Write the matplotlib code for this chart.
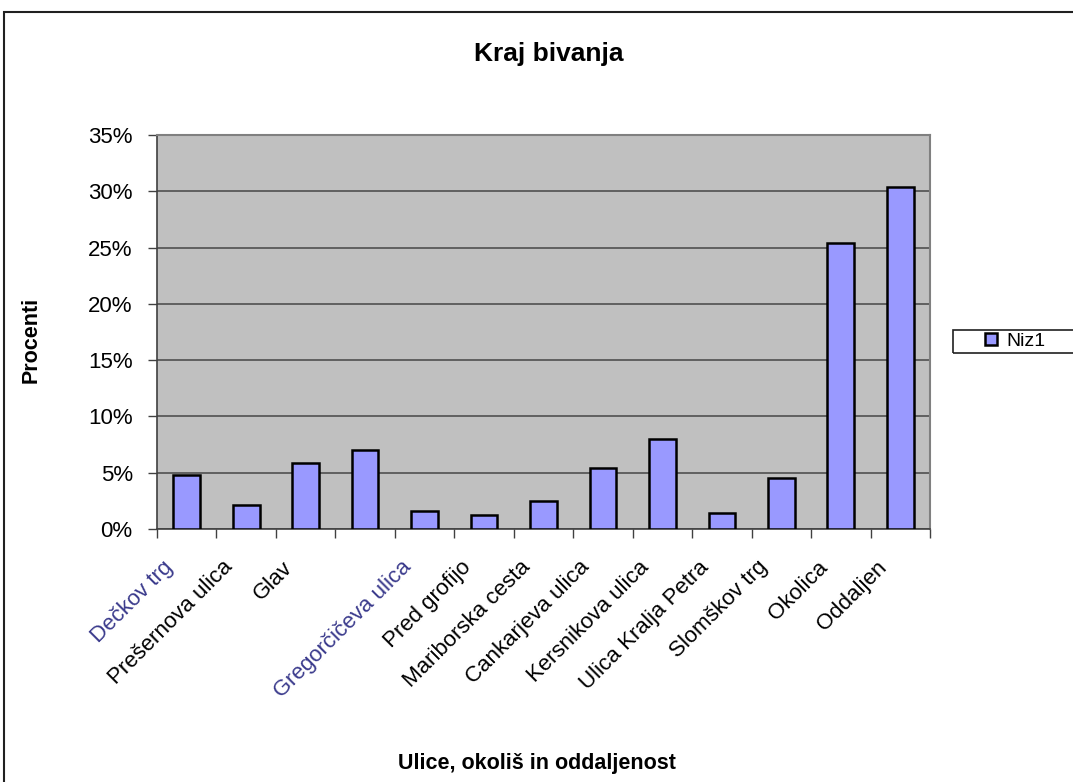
import matplotlib.pyplot as plt
from matplotlib.patches import Rectangle
from matplotlib.ticker import PercentFormatter, MultipleLocator
from matplotlib.transforms import ScaledTranslation

plt.rcParams['font.family'] = ['Liberation Sans', 'DejaVu Sans']

# data (percent)
categories = ["Dečkov trg", "Prešernova ulica", "Glav", "", "Gregorčičeva ulica",
              "Pred grofijo", "Mariborska cesta", "Cankarjeva ulica", "Kersnikova ulica",
              "Ulica Kralja Petra", "Slomškov trg", "Okolica", "Oddaljen"]
values = [4.8, 2.1, 5.9, 7.0, 1.6, 1.2, 2.5, 5.4, 8.0, 1.4, 4.5, 25.4, 30.4]
series_name = "Niz1"

W, H = 1073, 782
fig = plt.figure(figsize=(W / 100, H / 100), dpi=100)

# outer chart frame (cut by the image edge like the original)
fig.patches.append(Rectangle((4 / W, -0.05), 1.2, 1 - 12 / H + 0.05, transform=fig.transFigure,
                             fill=False, edgecolor='#202020', linewidth=1.5))

ax = fig.add_axes([157 / W, 1 - 529 / H, (930 - 157) / W, (529 - 135) / H])
ax.set_facecolor('#C0C0C0')

x = list(range(len(categories)))
ax.bar(x, values, width=0.45, color='#9999FF', edgecolor='black', linewidth=1.8,
       label=series_name, zorder=3)

ax.set_xlim(-0.5, len(categories) - 0.5)
ax.set_ylim(0, 35)
ax.yaxis.set_major_locator(MultipleLocator(5))
ax.yaxis.set_major_formatter(PercentFormatter(decimals=0))
ax.grid(axis='y', color='#505050', linewidth=1.2, zorder=1)

# tick marks at category boundaries, labels at centres
ax.set_xticks([i - 0.5 for i in range(len(categories) + 1)], minor=True)
ax.set_xticks(x)
ax.set_xticklabels(categories, rotation=45, ha='right', rotation_mode='anchor', fontsize=16)
ax.tick_params(axis='x', which='major', length=0, pad=20)
ax.tick_params(axis='x', which='minor', length=6.5, width=1, color='#404040')
ax.tick_params(axis='y', length=6.5, width=1, color='#404040', labelsize=16, pad=11)
shift = ScaledTranslation(-24 / 100, 0, fig.dpi_scale_trans)
for i, lab in enumerate(ax.get_xticklabels()):
    lab.set_transform(lab.get_transform() + shift)
    if i in (0, 4):
        lab.set_color('#3a3a8c')

for s in ('left', 'bottom'):
    ax.spines[s].set_color('#404040')
    ax.spines[s].set_linewidth(1.2)
for s in ('top', 'right'):
    ax.spines[s].set_color('#808080')
    ax.spines[s].set_linewidth(1.5)

fig.text(549 / W, 1 - 54 / H, "Kraj bivanja", ha='center', va='center',
         fontsize=19, fontweight='bold')
fig.text(31 / W, 1 - 340 / H, "Procenti", ha='center', va='center', rotation=90,
         fontsize=15.5, fontweight='bold')
fig.text(537 / W, 1 - 763 / H, "Ulice, okoliš in oddaljenost", ha='center', va='center',
         fontsize=15.5, fontweight='bold')

# legend box running off the right edge
fig.patches.append(Rectangle((953 / W, 1 - 353 / H), 0.2, 23 / H, transform=fig.transFigure,
                             fill=False, edgecolor='#202020', linewidth=1.2))
fig.legend(loc='center left', bbox_to_anchor=(985 / W, 1 - 341.5 / H), frameon=False,
           fontsize=14, handlelength=0.6, handleheight=0.6, handletextpad=0.5,
           borderpad=0, borderaxespad=0)

fig.savefig("out.png", dpi=100)
